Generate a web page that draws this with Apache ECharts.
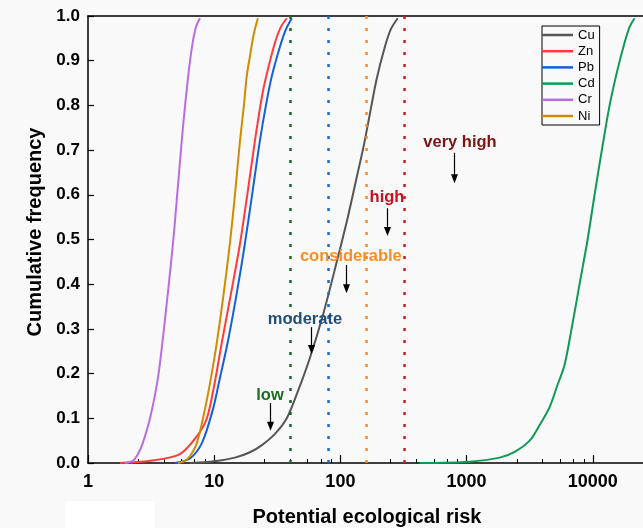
<!DOCTYPE html>
<html><head><meta charset="utf-8">
<script src="https://cdn.jsdelivr.net/npm/echarts@6.0.0/dist/echarts.min.js"></script>
<style>html,body{margin:0;padding:0;background:#f9f9f9}#c{width:643px;height:528px}</style>
</head><body><div id="c"></div>
<script>
// ---- data ----
const cuX=[6.42,10.1,14.6,19.2,23.9,30.3,37.6,46.0,57.3,72.6,93.6,114.5,134.9,153.2,171.0,194.2,224.7,250.6,284.6];
const cuY=[0,0.004,0.012,0.024,0.04,0.065,0.10,0.16,0.235,0.33,0.45,0.55,0.64,0.71,0.78,0.86,0.93,0.97,0.995];
const znX=[1.79,3.10,5.35,7.30,8.75,10.1,11.5,13.6,16.0,18.5,21.0,23.9,26.1,30.3,33.7,37.6];
const znY=[0,0.005,0.02,0.06,0.10,0.18,0.27,0.38,0.49,0.61,0.72,0.82,0.87,0.94,0.975,0.995];
const pbX=[4.88,6.42,8.0,9.77,11.1,12.8,15.1,17.5,20.2,23.0,25.7,28.6,33.1,37.0,41.2];
const pbY=[0,0.01,0.045,0.12,0.19,0.27,0.38,0.49,0.61,0.72,0.80,0.865,0.93,0.97,0.995];
const cdX=[425,1059,1829,2404,3160,3794,4550,5260,5980,6790,7855,9100,10330,11960,13590,15710,17860,19550,21430];
const cdY=[0,0.003,0.012,0.025,0.05,0.085,0.125,0.175,0.22,0.30,0.40,0.50,0.60,0.71,0.80,0.88,0.94,0.975,0.995];
const crX=[1.96,2.27,2.49,2.72,3.10,3.58,4.07,4.71,5.16,5.65,6.19,6.66,7.16,7.71];
const crY=[0,0.005,0.02,0.045,0.10,0.19,0.32,0.49,0.62,0.75,0.86,0.93,0.975,0.995];
const niX=[5.16,5.86,6.42,7.30,8.44,9.42,10.5,11.9,13.3,14.6,16.0,17.2,18.1,19.2,20.6,22.2];
const niY=[0,0.005,0.015,0.045,0.12,0.19,0.27,0.38,0.49,0.60,0.72,0.80,0.865,0.91,0.96,0.995];

const seriesNames=['Cu','Zn','Pb','Cd','Cr','Ni'];
const seriesColors=['#555555','#ff3b3b','#1560d8','#0e9a55','#b86ee0','#d08c00'];
const thresholds=[40,80,160,320];
const thresholdColors=['#1a6a1a','#1a6fc4','#ff8c1a','#d01c1c'];
const xMajorTicks=[1,10,100,1000,10000];
const xMinorTicks=[2.5,4,5.5,7,8.5,25,40,55,70,85,250,400,550,700,850,2500,4000,5500,7000,8500];
const annoText=['low','moderate','considerable','high','very high'];
const annoColor=['#1f6b1f','#1f4e79','#ff8c1a','#c8101e','#7b1414'];
const annoPos=[[27.7,0.15],[52.4,0.322],[121,0.461],[234,0.595],[887,0.718]];
const arrowX=[27.5,58.5,110.8,234,794];
const arrowY=[[0.134,0.072],[0.304,0.244],[0.443,0.380],[0.570,0.508],[0.694,0.626]];

const xs=[cuX,znX,pbX,cdX,crX,niX], ys=[cuY,znY,pbY,cdY,crY,niY];
const FONT='"Liberation Sans", Arial, sans-serif';

const chart=echarts.init(document.getElementById('c'),null,{renderer:'canvas'});
const series=seriesNames.map((n,i)=>({
  name:n,type:'line',xAxisIndex:0,yAxisIndex:0,
  data:xs[i].map((x,j)=>[x,ys[i][j]]),
  smooth:0.3,symbol:'none',
  lineStyle:{color:seriesColors[i],width:2},itemStyle:{color:seriesColors[i]},z:3
}));
series.push({
  name:'thresholds',type:'line',data:[],xAxisIndex:0,yAxisIndex:0,silent:true,
  markLine:{symbol:['none','none'],silent:true,label:{show:false},animation:false,
    data:thresholds.map((t,i)=>({xAxis:t,lineStyle:{color:thresholdColors[i],type:[3,9],width:2.5}}))},z:2
});

chart.setOption({
  animation:false,
  backgroundColor:'#f9f9f9',
  grid:{left:88,top:16,right:0,bottom:65,containLabel:false},
  legend:{
    data:seriesNames.map(n=>({name:n,icon:'rect'})),orient:'vertical',left:542,top:26,
    itemWidth:31,itemHeight:2.5,itemGap:2.2,padding:[2,5,2,0],
    borderColor:'#000',borderWidth:1,
    textStyle:{fontSize:13,fontFamily:FONT,color:'#000',lineHeight:14}
  },
  xAxis:[
    {type:'log',logBase:10,min:1,max:25000,position:'bottom',
     axisLine:{show:true,lineStyle:{color:'#000',width:1.5}},
     axisTick:{show:true,inside:true,length:8,customValues:xMajorTicks,lineStyle:{color:'#000',width:1.2}},
     axisLabel:{customValues:xMajorTicks,formatter:v=>String(Math.round(v)),fontSize:18,fontWeight:'bold',fontFamily:FONT,color:'#000',margin:10},
     splitLine:{show:false}},
    {type:'log',logBase:10,min:1,max:25000,position:'top',
     axisLine:{show:true,lineStyle:{color:'#000',width:1.5}},
     axisTick:{show:false},axisLabel:{show:false},splitLine:{show:false}},
    {type:'log',logBase:10,min:1,max:25000,position:'bottom',
     axisLine:{show:false},
     axisTick:{show:true,inside:true,length:4,customValues:xMinorTicks,lineStyle:{color:'#000',width:1}},
     axisLabel:{show:false},splitLine:{show:false}}
  ],
  yAxis:[{type:'value',min:0,max:1,interval:0.1,
    axisLine:{show:true,lineStyle:{color:'#000',width:1.5}},
    axisTick:{show:true,inside:true,length:6,lineStyle:{color:'#000',width:1.2}},
    axisLabel:{formatter:v=>v.toFixed(1),fontSize:17,fontWeight:'bold',fontFamily:FONT,color:'#000',margin:8},
    splitLine:{show:false}}],
  series:series
});

const g=[];
g.push({type:'rect',shape:{x:65,y:501,width:90,height:27},style:{fill:'#ffffff'},z:-1,silent:true});
g.push({type:'text',x:367,y:517,style:{text:'Potential ecological risk',font:'bold 20px '+FONT,fill:'#000',align:'center',verticalAlign:'middle'}});
g.push({type:'text',x:35,y:232,rotation:Math.PI/2,style:{text:'Cumulative frequency',font:'bold 20px '+FONT,fill:'#000',align:'center',verticalAlign:'middle'}});
annoText.forEach((t,i)=>{
  const p=chart.convertToPixel({xAxisIndex:0,yAxisIndex:0},annoPos[i]);
  g.push({type:'text',x:p[0],y:p[1],style:{text:t,font:'bold 16.5px '+FONT,fill:annoColor[i],align:'center',verticalAlign:'middle'},z:10});
  const a=chart.convertToPixel({xAxisIndex:0,yAxisIndex:0},[arrowX[i],arrowY[i][0]]);
  const b=chart.convertToPixel({xAxisIndex:0,yAxisIndex:0},[arrowX[i],arrowY[i][1]]);
  const x=Math.round(a[0])+0.5;
  g.push({type:'line',shape:{x1:x,y1:a[1],x2:x,y2:b[1]-6},style:{stroke:'#000',lineWidth:1.2},z:10});
  g.push({type:'polygon',shape:{points:[[x-3.5,b[1]-9],[x+3.5,b[1]-9],[x,b[1]]]},style:{fill:'#000'},z:10});
});
chart.setOption({graphic:g});
</script></body></html>
